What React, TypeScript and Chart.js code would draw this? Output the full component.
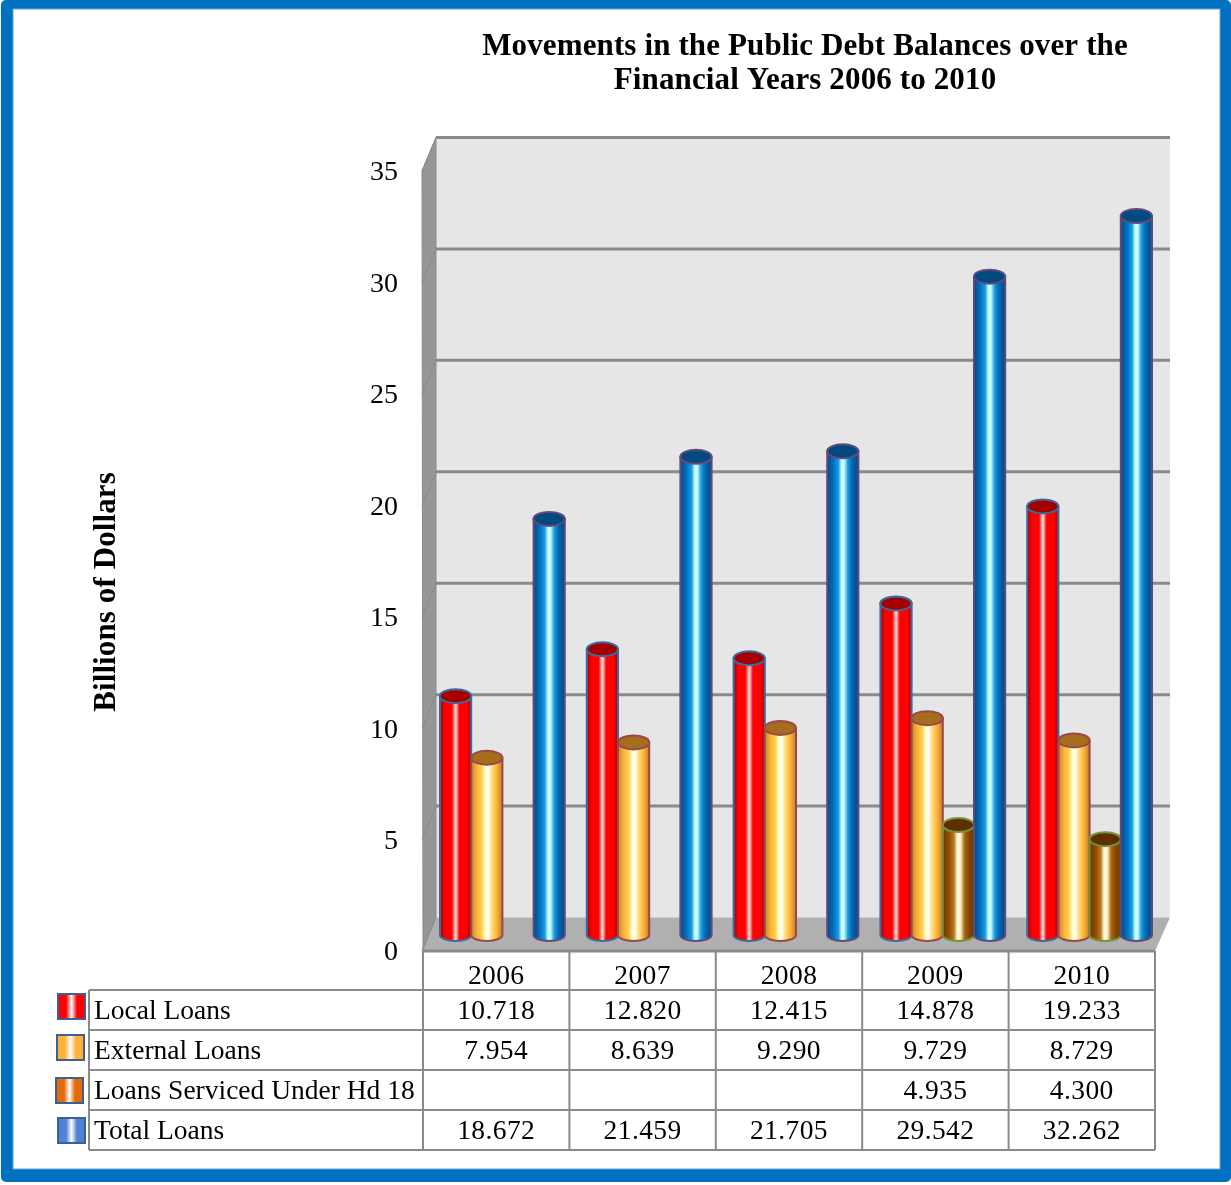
import React, { useEffect, useRef } from "react";
import { Chart, registerables, BarController, BarElement } from "chart.js";

const years = ["2006", "2007", "2008", "2009", "2010"];
const localLoans = [10.718, 12.82, 12.415, 14.878, 19.233];
const externalLoans = [7.954, 8.639, 9.29, 9.729, 8.729];
const hd18Loans = [null, null, null, 4.935, 4.3];
const totalLoans = [18.672, 21.459, 21.705, 29.542, 32.262];
const seriesNames = ["Local Loans", "External Loans", "Loans Serviced Under Hd 18", "Total Loans"];
const titleLines = ["Movements in the Public Debt Balances over the", "Financial Years 2006 to 2010"];
const axisTitle = "Billions of Dollars";

const FONT = '"Liberation Serif"';

// Side shading, lid colour for each cylinder, keyed by its base colour.
const shades: Record<string, { stops: [number, string][]; lid: string }> = {
  "#ff0000": {
    lid: "#a40000",
    stops: [[0, "#a80000"], [0.16, "#ff0000"], [0.38, "#ff0000"], [0.5, "#ffe4e4"], [0.62, "#ff0000"], [0.86, "#ff0000"], [1, "#b00000"]],
  },
  "#ffb13a": {
    lid: "#a46e1e",
    stops: [[0, "#c4862c"], [0.18, "#ffb13a"], [0.34, "#ffd050"], [0.44, "#ffffc0"], [0.54, "#ffffff"], [0.68, "#ffd868"], [0.82, "#ffb13a"], [1, "#c08028"]],
  },
  "#974f00": {
    lid: "#5c3000",
    stops: [[0, "#6a3800"], [0.22, "#974f00"], [0.36, "#b87a28"], [0.46, "#fff8d0"], [0.56, "#fff8d0"], [0.7, "#a86414"], [0.84, "#854600"], [1, "#6a3800"]],
  },
  "#0070c0": {
    lid: "#004a80",
    stops: [[0, "#004a88"], [0.2, "#0070c0"], [0.36, "#1a9ce0"], [0.46, "#c8ffff"], [0.54, "#c8ffff"], [0.66, "#1a9ce0"], [0.8, "#0066b0"], [1, "#004a88"]],
  },
};

// Legend swatches use a lighter treatment than the cylinders.
const swatches = [
  { x: 58, y: 994, w: 27, h: 25, edge: "#ff0000" },
  { x: 57, y: 1035, w: 27, h: 25, edge: "#ffb13a" },
  { x: 56, y: 1078, w: 27, h: 25, edge: "#e36c0a" },
  { x: 58, y: 1118, w: 27, h: 25, edge: "#4f81d4" },
];

class CylinderElement extends BarElement {
  static id = "cylinder";

  draw(ctx: CanvasRenderingContext2D) {
    const { x, y, base, width } = (this as any).getProps(["x", "y", "base", "width"]);
    const { backgroundColor, borderColor } = (this as any).options;
    const shade = shades[backgroundColor];
    const half = width / 2;
    const ry = 7;
    const grad = ctx.createLinearGradient(x - half, 0, x + half, 0);
    shade.stops.forEach(([o, c]) => grad.addColorStop(o, c));
    ctx.save();
    ctx.lineWidth = 2;
    ctx.strokeStyle = borderColor;
    ctx.beginPath();
    ctx.moveTo(x - half, y);
    ctx.lineTo(x - half, base);
    ctx.ellipse(x, base, half, ry - 1, 0, Math.PI, 0, true);
    ctx.lineTo(x + half, y);
    ctx.closePath();
    ctx.fillStyle = grad;
    ctx.fill();
    ctx.stroke();
    ctx.beginPath();
    ctx.ellipse(x, y, half, ry, 0, 0, Math.PI * 2);
    ctx.fillStyle = shade.lid;
    ctx.fill();
    ctx.stroke();
    ctx.restore();
  }
}

class CylinderController extends BarController {
  static id = "cylinder";
  static defaults = { dataElementType: "cylinder" };
}

Chart.register(...registerables, CylinderElement, CylinderController);

const setText = (ctx: CanvasRenderingContext2D, font: string, spacing: number, align: CanvasTextAlign) => {
  ctx.font = font;
  (ctx as any).letterSpacing = `${spacing}px`;
  ctx.textAlign = align;
  ctx.textBaseline = "middle";
  ctx.fillStyle = "#000000";
};

// White page inside a blue frame with a soft inner edge.
const framePlugin = {
  id: "frame",
  beforeDraw(chart: Chart) {
    const { ctx } = chart;
    ctx.save();
    ctx.fillStyle = "#ffffff";
    ctx.fillRect(0, 0, 1231, 1185);
    ctx.fillStyle = "#0070c0";
    ctx.beginPath();
    (ctx as any).roundRect(1, 0, 1230, 1182, 5);
    ctx.fill();
    ctx.fillStyle = "#ffffff";
    ctx.fillRect(13, 9, 1207, 1160);
    ctx.strokeStyle = "#5fa8dd";
    ctx.lineWidth = 1;
    ctx.strokeRect(13, 9, 1207, 1160);
    ctx.restore();
  },
};

// Back wall, side wall and floor of the box, positioned off the value scale.
const BACK_X = 7;
const BACK_Y = -17.5;
const FRONT_X = -6;
const FRONT_Y = 16;

const boxPlugin = {
  id: "box",
  beforeDatasetsDraw(chart: Chart) {
    const { ctx, chartArea: a, scales } = chart;
    const yScale = scales.y;
    const y0 = yScale.getPixelForValue(0);
    const yMax = yScale.getPixelForValue(35);
    const bl = a.left + BACK_X;
    const br = a.right + BACK_X;
    const fl = a.left + FRONT_X;
    const fr = a.right - 8;
    ctx.save();
    ctx.fillStyle = "#e6e6e6";
    ctx.fillRect(bl, yMax + BACK_Y, br - bl, y0 - yMax);
    ctx.fillStyle = "#969696";
    ctx.beginPath();
    ctx.moveTo(bl, yMax + BACK_Y);
    ctx.lineTo(fl - 1, yMax + FRONT_Y);
    ctx.lineTo(fl, y0 + FRONT_Y);
    ctx.lineTo(bl, y0 + BACK_Y);
    ctx.closePath();
    ctx.fill();
    ctx.strokeStyle = "#8a8a8a";
    ctx.lineWidth = 1;
    ctx.stroke();
    ctx.fillStyle = "#b0b0b0";
    ctx.beginPath();
    ctx.moveTo(bl, y0 + BACK_Y);
    ctx.lineTo(br, y0 + BACK_Y);
    ctx.lineTo(fr, y0 + FRONT_Y);
    ctx.lineTo(fl, y0 + FRONT_Y);
    ctx.closePath();
    ctx.fill();
    (yScale.ticks as { value: number }[]).forEach(({ value }) => {
      const py = yScale.getPixelForValue(value);
      if (value > 0) {
        ctx.strokeStyle = "#8a8a8a";
        ctx.lineWidth = 3;
        ctx.beginPath();
        ctx.moveTo(bl, py + BACK_Y);
        ctx.lineTo(br, py + BACK_Y);
        ctx.stroke();
      }
      ctx.strokeStyle = "#8a8a8a";
      ctx.lineWidth = 1;
      ctx.beginPath();
      ctx.moveTo(bl, py + BACK_Y);
      ctx.lineTo(fl - 1, py + FRONT_Y);
      ctx.stroke();
    });
    ctx.restore();

    // Paint the series left to right so each cylinder overlaps the one before it.
    chart.data.datasets.forEach((_, i) => (chart.getDatasetMeta(i).controller as any).draw());
    return false;
  },
};

// Heading, rotated axis caption, data table and legend keys.
const textPlugin = {
  id: "tableAndTitles",
  afterDraw(chart: Chart) {
    const { ctx, chartArea: a, scales } = chart;
    const grey = "#8a8a8a";
    const tableLeft = a.left + FRONT_X;
    const colW = (a.right - 8 - tableLeft) / years.length;
    const headTop = scales.y.getPixelForValue(0) + FRONT_Y;
    const rowTops = [990, 1030, 1070, 1110, 1150];
    const labelLeft = 89;
    const rows = [localLoans, externalLoans, hd18Loans, totalLoans];

    ctx.save();
    setText(ctx, `bold 31px ${FONT}`, 0.13, "center");
    titleLines.forEach((line, i) => ctx.fillText(line, 805, 47 + i * 34));

    ctx.save();
    ctx.translate(107, 592);
    ctx.rotate(-Math.PI / 2);
    setText(ctx, `bold 31px ${FONT}`, 0.1, "center");
    ctx.fillText(axisTitle, 0, 0);
    ctx.restore();

    ctx.strokeStyle = grey;
    ctx.lineWidth = 2;
    ctx.beginPath();
    rowTops.forEach((ry) => {
      ctx.moveTo(labelLeft, ry);
      ctx.lineTo(tableLeft + colW * years.length, ry);
    });
    ctx.moveTo(labelLeft, rowTops[0]);
    ctx.lineTo(labelLeft, rowTops[4]);
    for (let c = 0; c <= years.length; c++) {
      ctx.moveTo(tableLeft + colW * c, headTop);
      ctx.lineTo(tableLeft + colW * c, rowTops[4]);
    }
    ctx.stroke();
    ctx.strokeStyle = grey;
    ctx.lineWidth = 3;
    ctx.beginPath();
    ctx.moveTo(tableLeft, headTop);
    ctx.lineTo(tableLeft + colW * years.length, headTop);
    ctx.stroke();

    const body = `27.5px ${FONT}`;
    setText(ctx, body, 0.4, "center");
    years.forEach((yr, c) => ctx.fillText(yr, tableLeft + colW * (c + 0.5), 977));
    rows.forEach((values, r) => {
      const cy = rowTops[r] + 22;
      setText(ctx, body, 0, "left");
      ctx.fillText(seriesNames[r], 94, cy);
      setText(ctx, body, 0.4, "center");
      values.forEach((v, c) => {
        if (v !== null) ctx.fillText(v.toFixed(3), tableLeft + colW * (c + 0.5), cy);
      });
    });

    swatches.forEach((s) => {
      const g = ctx.createLinearGradient(s.x, 0, s.x + s.w, 0);
      g.addColorStop(0, s.edge);
      g.addColorStop(0.3, s.edge);
      g.addColorStop(0.5, "#ffffff");
      g.addColorStop(0.7, s.edge);
      g.addColorStop(1, s.edge);
      ctx.fillStyle = g;
      ctx.fillRect(s.x, s.y, s.w, s.h);
      ctx.strokeStyle = "#3f5f8f";
      ctx.lineWidth = 2;
      ctx.strokeRect(s.x, s.y, s.w, s.h);
    });
    ctx.restore();
  },
};

export default function App() {
  const canvasRef = useRef<HTMLCanvasElement>(null);

  useEffect(() => {
    const chart = new Chart(canvasRef.current!, {
      type: "cylinder" as any,
      data: {
        labels: years,
        datasets: [
          { label: seriesNames[0], data: localLoans, backgroundColor: "#ff0000", borderColor: "#3c6a9e" },
          { label: seriesNames[1], data: externalLoans, backgroundColor: "#ffb13a", borderColor: "#9c4848" },
          { label: seriesNames[2], data: hd18Loans, backgroundColor: "#974f00", borderColor: "#76923c" },
          { label: seriesNames[3], data: totalLoans, backgroundColor: "#0070c0", borderColor: "#604a7b" },
        ] as any,
      },
      options: {
        responsive: false,
        animation: false,
        categoryPercentage: 0.85,
        barPercentage: 1,
        layout: { padding: { left: 90, right: 68, top: 155, bottom: 250 } },
        plugins: { legend: { display: false }, tooltip: { enabled: false }, title: { display: false } },
        scales: {
          x: { type: "category", display: false, offset: true, grid: { display: false } },
          y: {
            type: "linear",
            min: 0,
            max: 35,
            afterFit: (s: any) => {
              s.width = 339;
            },
            grid: { display: false, drawTicks: false },
            border: { display: false },
            ticks: {
              stepSize: 5,
              padding: 31,
              labelOffset: 18,
              color: "#000000",
              font: { family: FONT, size: 28 },
            },
          },
        },
      } as any,
      plugins: [framePlugin, boxPlugin, textPlugin],
    });
    return () => chart.destroy();
  }, []);

  return (
    <canvas
      ref={canvasRef}
      width={1231}
      height={1185}
      style={{ position: "absolute", left: 0, top: 0, display: "block" }}
    />
  );
}
